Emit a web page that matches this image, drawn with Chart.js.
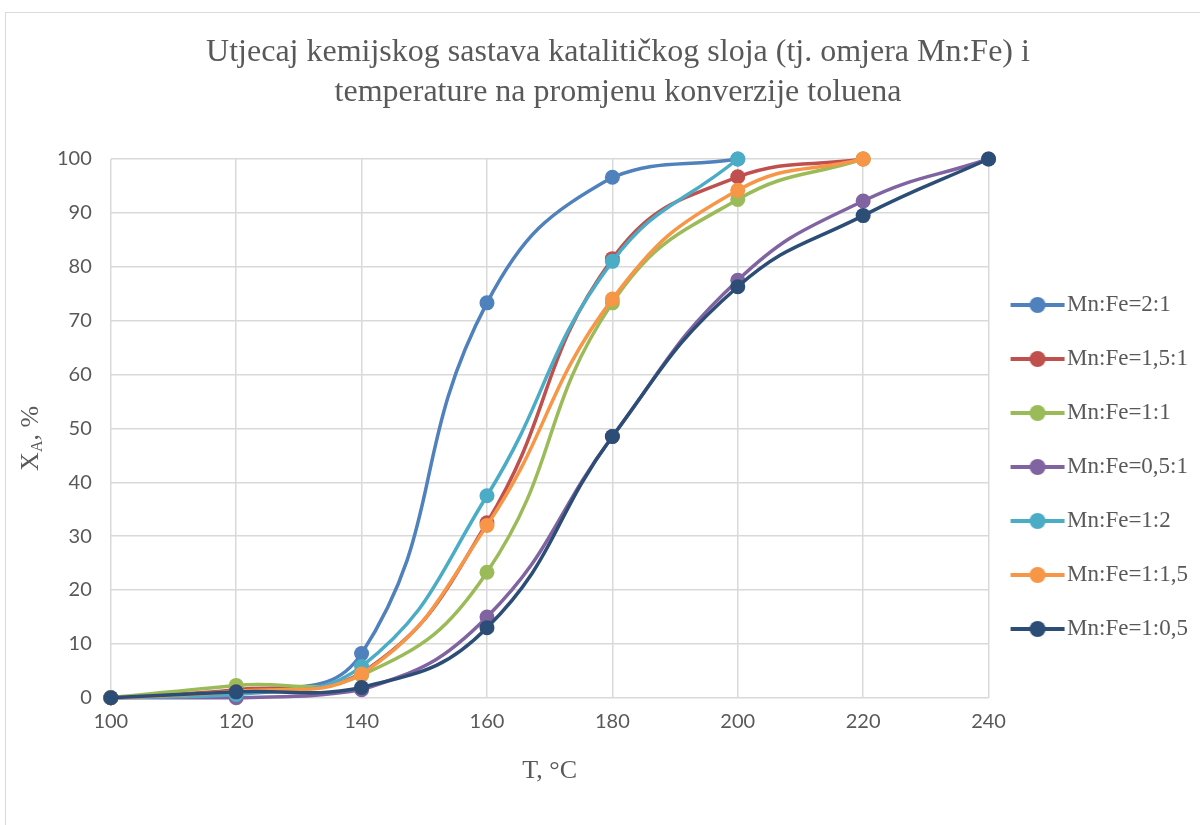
<!DOCTYPE html>
<html>
<head>
<meta charset="utf-8">
<script src="https://cdn.jsdelivr.net/npm/chart.js@4.4.1/dist/chart.umd.min.js"></script>
<style>
    html, body { margin: 0; padding: 0; background: #fff; overflow: hidden; }
    #frame { position: absolute; left: 5px; top: 12px; width: 1220px; height: 840px; border: 1px solid #d9d9d9; }
    #wrap { position: absolute; left: 0; top: 0; width: 1200px; height: 825px; }
</style>
</head>
<body>
<div id="frame"></div>
<div id="wrap"><canvas id="convChart"></canvas></div>
<script>
// Temperature, °C
const temps = [100, 120, 140, 160, 180, 200, 220, 240];

// Conversion X_A, % per catalyst composition
const mnFe_2_1   = [0, 1.0, 8.2, 73.3, 96.6, 100];
const mnFe_15_1  = [0, 1.5, 4.6, 32.5, 81.5, 96.7, 100];
const mnFe_1_1   = [0, 2.3, 4.2, 23.3, 73.3, 92.5, 100];
const mnFe_05_1  = [0, 0, 1.5, 15.0, 48.5, 77.5, 92.2, 100];
const mnFe_1_2   = [0, 0.6, 5.8, 37.5, 81.0, 100];
const mnFe_1_15  = [0, 1.2, 4.4, 32.0, 74.0, 94.2, 100];
const mnFe_1_05  = [0, 1.1, 1.9, 13.0, 48.5, 76.3, 89.5, 100];

const seriesNames = ['Mn:Fe=2:1', 'Mn:Fe=1,5:1', 'Mn:Fe=1:1', 'Mn:Fe=0,5:1', 'Mn:Fe=1:2', 'Mn:Fe=1:1,5', 'Mn:Fe=1:0,5'];
const seriesData = [mnFe_2_1, mnFe_15_1, mnFe_1_1, mnFe_05_1, mnFe_1_2, mnFe_1_15, mnFe_1_05];
const seriesColors = ['#4F81BD', '#C0504D', '#9BBB59', '#8064A2', '#4BACC6', '#F79646', '#2C4D75'];

const SERIF = "'Liberation Serif', 'Times New Roman', serif";
const SANS = "Lato, 'Open Sans', sans-serif";
const GREY = '#595959';

// little line+dot marker for the legend
function legendMarker(color) {
    const c = document.createElement('canvas');
    c.width = 56; c.height = 18;
    const g = c.getContext('2d');
    g.strokeStyle = color;
    g.lineWidth = 4;
    g.beginPath(); g.moveTo(1, 9); g.lineTo(55, 9); g.stroke();
    g.fillStyle = color;
    g.beginPath(); g.arc(28, 9, 8, 0, Math.PI * 2); g.fill();
    return c;
}

// y axis title with subscript A
const yTitlePlugin = {
    id: 'yTitle',
    afterDraw(chart) {
        const ctx = chart.ctx;
        const area = chart.chartArea;
        const cy = (area.top + area.bottom) / 2 + 10;
        ctx.save();
        ctx.translate(31, cy);
        ctx.rotate(-Math.PI / 2);
        ctx.fillStyle = GREY;
        ctx.textBaseline = 'middle';
        ctx.textAlign = 'left';
        ctx.font = '26px ' + SERIF;
        const w1 = ctx.measureText('X').width;
        ctx.font = '16px ' + SERIF;
        const w2 = ctx.measureText('A').width;
        ctx.font = '26px ' + SERIF;
        const w3 = ctx.measureText(', %').width;
        let x = -(w1 + w2 + w3) / 2;
        ctx.fillText('X', x, 0);
        x += w1;
        ctx.font = '16px ' + SERIF;
        ctx.fillText('A', x, 7);
        x += w2;
        ctx.font = '26px ' + SERIF;
        ctx.fillText(', %', x, 0);
        ctx.restore();
    }
};

function initChart() {
    const ctx = document.getElementById('convChart').getContext('2d');
    const datasets = seriesNames.map((name, i) => ({
        label: name,
        data: seriesData[i].map((v, j) => ({ x: temps[j], y: v })),
        borderColor: seriesColors[i],
        backgroundColor: seriesColors[i],
        borderWidth: 3.5,
        pointRadius: 7.5,
        pointHoverRadius: 7.5,
        pointBackgroundColor: seriesColors[i],
        pointBorderWidth: 0,
        tension: 0.45,
        fill: false,
        clip: false,
        order: seriesNames.length - i   // later series drawn on top, as in the original
    }));

    new Chart(ctx, {
        type: 'line',
        data: { datasets: datasets },
        options: {
            responsive: true,
            maintainAspectRatio: false,
            animation: false,
            layout: { padding: { left: 38, right: 2, top: 10, bottom: 38 } },
            plugins: {
                title: {
                    display: true,
                    text: ['Utjecaj kemijskog sastava katalitičkog sloja (tj. omjera Mn:Fe) i', 'temperature na promjenu konverzije toluena'],
                    color: GREY,
                    font: { family: SERIF, size: 32, weight: 'normal', lineHeight: 1.25 },
                    padding: { top: 23, bottom: 46 }
                },
                legend: {
                    position: 'right',
                    title: { display: true, text: ' ', padding: { top: 125, bottom: 0 }, font: { size: 10 } },
                    labels: {
                        color: GREY,
                        font: { family: SERIF, size: 23 },
                        usePointStyle: true,
                        pointStyleWidth: 36,
                        padding: 31,
                        generateLabels(chart) {
                            return chart.data.datasets.map((ds, i) => ({
                                text: ds.label,
                                fontColor: GREY,
                                pointStyle: legendMarker(ds.borderColor),
                                fillStyle: ds.borderColor,
                                strokeStyle: ds.borderColor,
                                lineWidth: 0,
                                hidden: false,
                                datasetIndex: i
                            }));
                        }
                    }
                },
                tooltip: { enabled: false }
            },
            scales: {
                x: {
                    type: 'linear',
                    min: 100,
                    max: 240,
                    ticks: { stepSize: 20, color: GREY, font: { family: SANS, size: 20 }, padding: 12 },
                    grid: { color: '#d9d9d9', lineWidth: 1.5, drawTicks: false },
                    border: { display: false },
                    title: { display: true, text: 'T, °C', color: GREY, font: { family: SERIF, size: 26 }, padding: { top: 10, bottom: 0 } }
                },
                y: {
                    min: 0,
                    max: 100,
                    ticks: { stepSize: 10, color: GREY, font: { family: SANS, size: 20 }, padding: 19 },
                    grid: { color: '#d9d9d9', lineWidth: 1.5, drawTicks: false },
                    border: { display: false }
                }
            }
        },
        plugins: [yTitlePlugin]
    });
}

initChart();
</script>
</body>
</html>
